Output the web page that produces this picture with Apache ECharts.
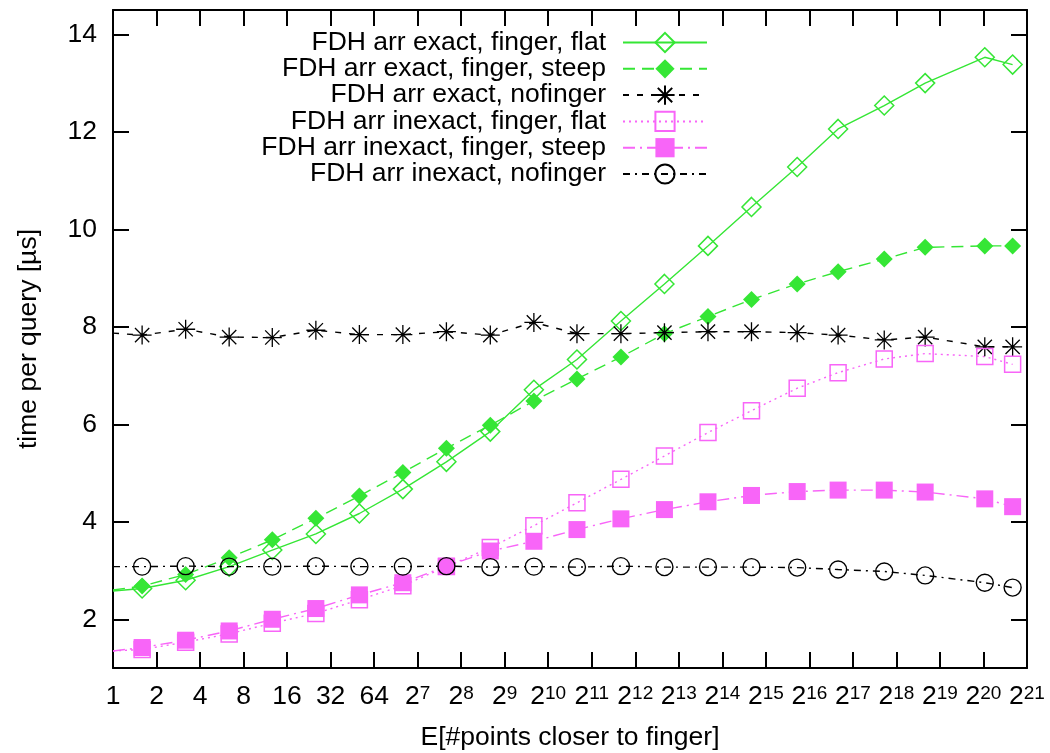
<!DOCTYPE html>
<html>
<head>
<meta charset="utf-8">
<title>FDH arr query time</title>
<script src="https://cdn.jsdelivr.net/npm/echarts@6/dist/echarts.min.js"></script>
<style>
  html, body { margin: 0; padding: 0; background: #fff; }
  #chart { width: 1050px; height: 753px; }
</style>
</head>
<body>
<div id="chart"></div>
<script>
// x values: E[#points closer to finger]; the first entry is where each line
// starts at the left frame (drawn without a marker)
const xValues = [1, 1.59, 3.18, 6.36, 12.64, 25.3, 50.6, 101.1, 202.3, 407, 814.6,
  1618, 3258, 6517, 13034, 26068, 53970, 103550, 215900, 414200, 1070600, 1668000];

const exactFlat = [2.58, 2.63, 2.80, 3.08, 3.42, 3.75, 4.17, 4.67, 5.23, 5.85, 6.71,
  7.33, 8.12, 8.88, 9.66, 10.46, 11.28, 12.06, 12.54, 13.0, 13.53, 13.38];
const exactSteep = [2.60, 2.68, 2.92, 3.26, 3.63, 4.07, 4.53, 5.01, 5.51, 5.98, 6.48,
  6.93, 7.38, 7.86, 8.21, 8.56, 8.88, 9.13, 9.39, 9.63, 9.66, 9.66];
const exactNofinger = [7.87, 7.83, 7.95, 7.79, 7.78, 7.93, 7.84, 7.84, 7.90, 7.83, 8.09,
  7.86, 7.86, 7.88, 7.90, 7.90, 7.88, 7.83, 7.73, 7.79, 7.59, 7.59];
const inexactFlat = [1.35, 1.38, 1.53, 1.70, 1.92, 2.12, 2.40, 2.69, 3.08, 3.47, 3.92,
  4.39, 4.87, 5.35, 5.83, 6.28, 6.74, 7.06, 7.34, 7.45, 7.39, 7.23];
const inexactSteep = [1.35, 1.42, 1.57, 1.76, 2.00, 2.22, 2.50, 2.75, 3.09, 3.40, 3.60,
  3.84, 4.06, 4.25, 4.41, 4.54, 4.62, 4.65, 4.65, 4.61, 4.47, 4.31];
const inexactNofinger = [3.08, 3.08, 3.09, 3.08, 3.08, 3.09, 3.08, 3.08, 3.09, 3.07, 3.08,
  3.07, 3.09, 3.07, 3.07, 3.07, 3.06, 3.02, 2.98, 2.90, 2.75, 2.65];

const seriesNames = [
  'FDH arr exact, finger, flat',
  'FDH arr exact, finger, steep',
  'FDH arr exact, nofinger',
  'FDH arr inexact, finger, flat',
  'FDH arr inexact, finger, steep',
  'FDH arr inexact, nofinger'
];

// tick labels
const xTickPowers = [0, 1, 2, 3, 4, 5, 6, 7, 8, 9, 10, 11, 12, 13, 14, 15, 16, 17, 18, 19, 20, 21];
const yTicks = [2, 4, 6, 8, 10, 12, 14];

const FONT = '"Liberation Sans", Arial, Helvetica, sans-serif';
const FS = 26.5;
const GREEN = '#35e635';
const MAGENTA = '#f865f8';
const NONE = 'rgba(255,255,255,0)';
const ASTERISK = 'path://M0,-10L0,10M-10,0L10,0M-7.5,-7.5L7.5,7.5M-7.5,7.5L7.5,-7.5';

const xTicks = xTickPowers.map((k) => Math.pow(2, k));

function toPoints(values) {
  return values.map((v, i) =>
    i === 0 ? { value: [xValues[i], v], symbol: 'none' } : [xValues[i], v]
  );
}

function lineSeries(name, values, o) {
  return {
    name: name,
    type: 'line',
    data: toPoints(values),
    symbol: o.symbol,
    symbolSize: o.size,
    symbolKeepAspect: true,
    lineStyle: { color: o.color, width: 1.4, type: o.dash },
    itemStyle: { color: o.fill, borderColor: o.color, borderWidth: o.border },
    emphasis: { disabled: true },
    animation: false
  };
}

const series = [
  lineSeries(seriesNames[0], exactFlat, { symbol: 'diamond', size: 19, color: GREEN, fill: NONE, border: 1.5, dash: 'solid' }),
  lineSeries(seriesNames[1], exactSteep, { symbol: 'diamond', size: 17, color: GREEN, fill: GREEN, border: 0, dash: [12, 7] }),
  lineSeries(seriesNames[2], exactNofinger, { symbol: ASTERISK, size: 19, color: '#000', fill: '#000', border: 1.3, dash: [6, 8] }),
  lineSeries(seriesNames[3], inexactFlat, { symbol: 'rect', size: 16, color: MAGENTA, fill: NONE, border: 1.5, dash: [2, 4] }),
  lineSeries(seriesNames[4], inexactSteep, { symbol: 'rect', size: 17, color: MAGENTA, fill: MAGENTA, border: 0, dash: [12, 5, 2, 5] }),
  lineSeries(seriesNames[5], inexactNofinger, { symbol: 'circle', size: 17, color: '#000', fill: NONE, border: 1.4, dash: [7, 5, 2, 5] })
];

const axisBlack = { color: '#000', width: 2 };

function xLabel(v) {
  const k = Math.round(Math.log2(v));
  if (k < 7) return '{b|' + Math.pow(2, k) + '}';
  return '{b|2}{s|' + k + '}';
}

const option = {
  backgroundColor: '#fff',
  animation: false,
  grid: { left: 113, right: 23, top: 10, bottom: 85, containLabel: false, outerBoundsMode: 'none' },
  legend: {
    orient: 'vertical',
    align: 'right',
    right: 342,
    top: 29,
    padding: 0,
    itemWidth: 84,
    itemHeight: 24,
    itemGap: -0.7,
    selectedMode: false,
    textStyle: { fontFamily: FONT, fontSize: FS, lineHeight: 26, color: '#000', padding: [0, 12, 0, 0] },
    data: seriesNames
  },
  xAxis: [
    {
      type: 'log', logBase: 2, min: 1, max: 2097152,
      axisLine: { onZero: false, lineStyle: axisBlack },
      axisTick: { inside: true, length: 16, customValues: xTicks, lineStyle: axisBlack },
      axisLabel: {
        customValues: xTicks,
        margin: 16,
        formatter: xLabel,
        rich: {
          b: { fontFamily: FONT, fontSize: FS, color: '#000', lineHeight: 26 },
          s: { fontFamily: FONT, fontSize: 19, color: '#000', lineHeight: 0, verticalAlign: 'top' }
        }
      },
      splitLine: { show: false },
      name: 'E[#points closer to finger]',
      nameLocation: 'middle',
      nameGap: 56,
      nameTextStyle: { fontFamily: FONT, fontSize: FS, color: '#000' }
    },
    {
      type: 'log', logBase: 2, min: 1, max: 2097152, position: 'top',
      axisLine: { onZero: false, lineStyle: axisBlack },
      axisTick: { inside: true, length: 16, customValues: xTicks, lineStyle: axisBlack },
      axisLabel: { show: false },
      splitLine: { show: false }
    }
  ],
  yAxis: [
    {
      type: 'value', min: 1, max: 14.5,
      axisLine: { show: true, onZero: false, lineStyle: axisBlack },
      axisTick: { show: true, inside: true, length: 16, customValues: yTicks, lineStyle: axisBlack },
      axisLabel: { customValues: yTicks, margin: 16, fontFamily: FONT, fontSize: FS, color: '#000' },
      splitLine: { show: false },
      name: 'time per query [µs]',
      nameLocation: 'middle',
      nameGap: 71,
      nameTextStyle: { fontFamily: FONT, fontSize: FS, color: '#000' }
    },
    {
      type: 'value', min: 1, max: 14.5, position: 'right',
      axisLine: { show: true, onZero: false, lineStyle: axisBlack },
      axisTick: { show: true, inside: true, length: 16, customValues: yTicks, lineStyle: axisBlack },
      axisLabel: { show: false },
      splitLine: { show: false }
    }
  ],
  series: series
};

const chart = echarts.init(document.getElementById('chart'));
chart.setOption(option);
</script>
</body>
</html>
